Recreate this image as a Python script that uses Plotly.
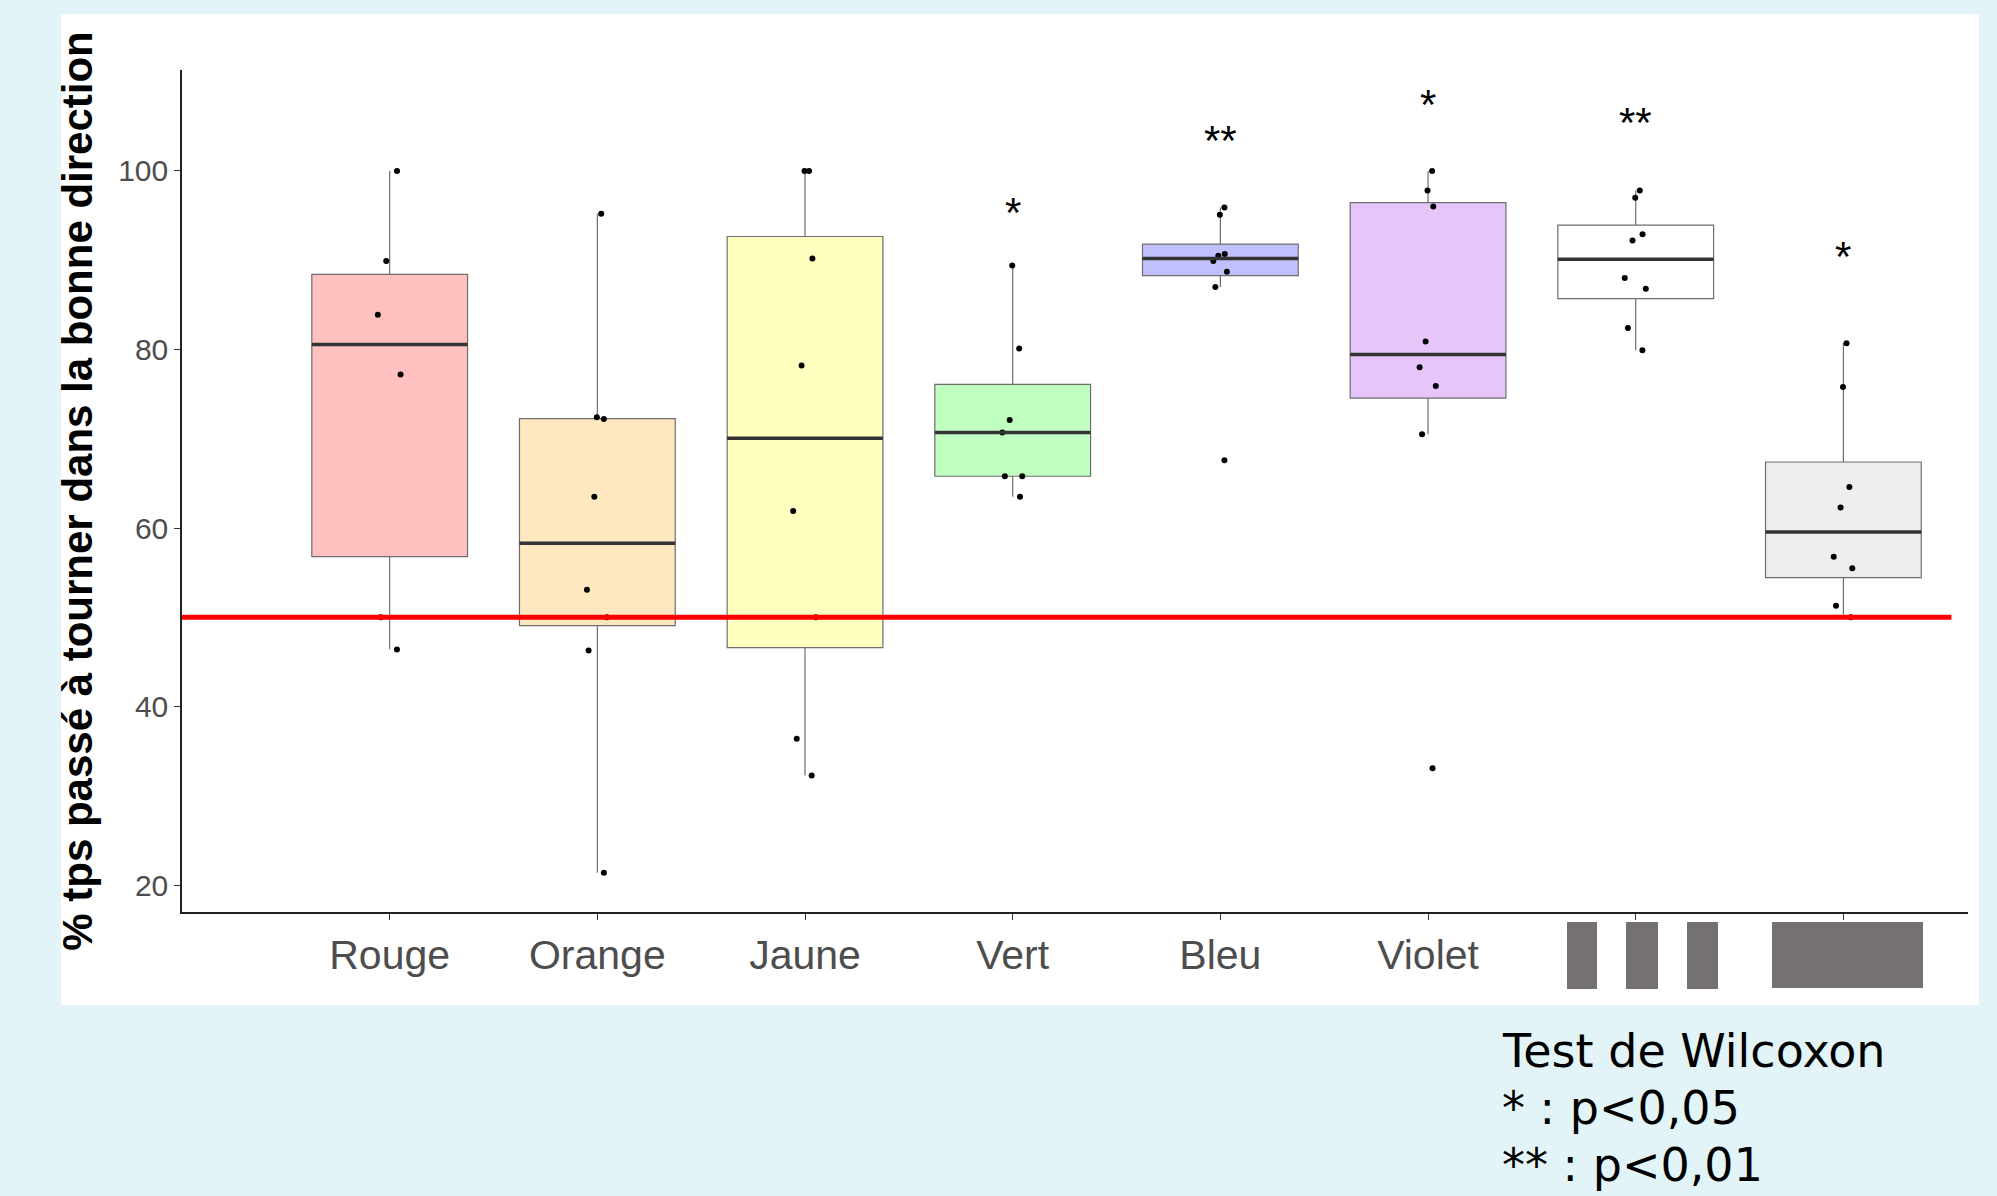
import numpy as np
import plotly.graph_objects as go

# ── data ───────────────────────────────────────────────────────
groups = ["Rouge", "Orange", "Jaune", "Vert", "Bleu", "Violet", "", " "]
tick_labels = ["Rouge", "Orange", "Jaune", "Vert", "Bleu", "Violet", "", ""]

rouge = [46.4, 50.0, 77.2, 83.9, 89.9, 100.0]
orange = [21.4, 46.3, 50.0, 53.1, 63.5, 72.2, 72.4, 95.2]
jaune = [32.3, 36.4, 50.0, 61.9, 78.2, 90.2, 100.0, 100.0]
vert = [63.5, 65.8, 65.8, 70.7, 72.1, 80.1, 89.4]
bleu = [67.6, 87.0, 88.7, 89.9, 90.5, 90.7, 95.1, 95.9]
violet = [33.1, 70.5, 75.9, 78.0, 80.9, 96.0, 97.8, 100.0]
blanc = [79.9, 82.4, 86.8, 88.0, 92.2, 92.9, 97.0, 97.8]
gris = [50.0, 51.3, 55.5, 56.8, 62.3, 64.6, 75.8, 80.7]
series = [rouge, orange, jaune, vert, bleu, violet, blanc, gris]

# significance marks (Wilcoxon) and the height where they are written
stars = ["", "", "", "*", "**", "*", "**", "*"]
star_y = [None, None, None, 95.3, 103.4, 107.4, 105.4, 90.4]

chance_level = 50
y_ticks = [20, 40, 60, 80, 100]

fills = ["#FFC0C0", "#FFE8C0", "#FFFFC0", "#C0FFC0",
         "#C0C0FF", "#E6C6FA", "#FFFFFF", "#EEEEEE"]

# ── pixel helpers (plot area in page pixels) ───────────────────
W, H = 1997, 1196
PL, PR, PT, PB = 182, 1968, 70, 912


def px(x):
    return (x - PL) / (PR - PL)


def py(y):
    return (PB - y) / (PB - PT)


fig = go.Figure()

for i, vals in enumerate(series):
    v = np.array(vals)
    q1, med, q3 = np.percentile(v, [25, 50, 75])
    iqr = q3 - q1
    lo = v[v >= q1 - 1.5 * iqr].min()
    hi = v[v <= q3 + 1.5 * iqr].max()

    # box + whiskers (ggplot-style quartiles)
    fig.add_trace(go.Box(
        x=[i], q1=[q1], median=[med], q3=[q3],
        lowerfence=[lo], upperfence=[hi],
        width=0.75, whiskerwidth=0,
        fillcolor=fills[i],
        line=dict(color="#6E6E6E", width=1.2),
        boxpoints=False, showlegend=False, hoverinfo="skip",
    ))
    # thicker median
    fig.add_trace(go.Scatter(
        x=[i - 0.375, i + 0.375], y=[med, med], mode="lines",
        line=dict(color="#333333", width=3.5),
        showlegend=False, hoverinfo="skip",
    ))
    # jittered raw points
    fig.add_trace(go.Box(
        x=[i] * len(vals), y=vals,
        boxpoints="all", jitter=0.18, pointpos=0,
        width=0.75, whiskerwidth=0,
        fillcolor="rgba(0,0,0,0)",
        line=dict(color="rgba(0,0,0,0)", width=0),
        marker=dict(color="black", size=6),
        showlegend=False,
    ))

for i, s in enumerate(stars):
    if s:
        fig.add_annotation(x=i, y=star_y[i], text=s, showarrow=False,
                           font=dict(family="Liberation Sans, Arial", size=42, color="black"))

shapes = [
    # white card behind the chart
    dict(type="rect", xref="paper", yref="paper", layer="below",
         x0=px(61), x1=px(1979), y0=py(1005), y1=py(14),
         fillcolor="white", line=dict(width=0)),
    # chance level
    dict(type="line", xref="x", yref="y", layer="above",
         x0=-1, x1=7.52, y0=chance_level, y1=chance_level,
         line=dict(color="#FF0000", width=5)),
]
# grey blocks masking the last two labels
for x0, x1, y0, y1 in [(1567, 1597, 922, 989), (1626, 1658, 922, 989),
                       (1687, 1718, 922, 989), (1772, 1923, 922, 988)]:
    shapes.append(dict(type="rect", xref="paper", yref="paper", layer="above",
                       x0=px(x0), x1=px(x1), y0=py(y1), y1=py(y0),
                       fillcolor="#767171", line=dict(width=0)))

legend_lines = ["Test de Wilcoxon", "* : p<0,05", "** : p<0,01"]
for txt, yc in zip(legend_lines, [1051, 1108, 1165]):
    fig.add_annotation(xref="paper", yref="paper", x=px(1500), y=py(yc),
                       xanchor="left", yanchor="middle", text=txt, showarrow=False,
                       font=dict(family="DejaVu Sans", size=46, color="black"))

fig.update_layout(
    width=W, height=H,
    margin=dict(l=PL, r=W - PR, t=PT, b=H - PB, pad=0),
    paper_bgcolor="#E2F4F7",
    plot_bgcolor="white",
    boxmode="overlay",
    showlegend=False,
    shapes=shapes,
    font=dict(family="Liberation Sans, Arial"),
    xaxis=dict(
        range=[-1.0, 7.6], tickvals=list(range(len(groups))), ticktext=tick_labels,
        showgrid=False, zeroline=False, showline=True, linecolor="#222222", linewidth=1.5,
        ticks="outside", ticklen=6, tickcolor="#333333",
        tickfont=dict(size=41, color="#4D4D4D"),
    ),
    yaxis=dict(
        range=[17.0, 111.3], tickvals=y_ticks,
        showgrid=False, zeroline=False, showline=True, linecolor="#222222", linewidth=1.5,
        ticks="outside", ticklen=6, tickcolor="#333333",
        tickfont=dict(size=30, color="#4D4D4D"),
        title=dict(text="% tps passé à tourner dans la bonne direction", standoff=12,
                   font=dict(size=42, color="black", weight="bold")),
    ),
)

fig.write_html("out.html", config={"displayModeBar": False},
               post_script="document.body.style.margin='0';document.body.style.overflow='hidden';")
